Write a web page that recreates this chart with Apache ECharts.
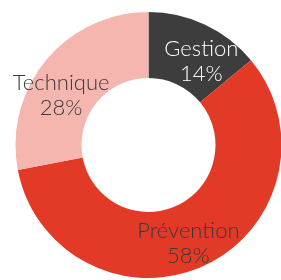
<!DOCTYPE html>
<html><head><meta charset="utf-8">
<script src="https://cdn.jsdelivr.net/npm/echarts@6/dist/echarts.min.js"></script>
<style>html,body{margin:0;padding:0;background:#fff}#c{width:281px;height:280px}</style>
</head><body><div id="c"></div>
<script>
const categories = ['Gestion', 'Prévention', 'Technique'];
const values = [14, 58, 28];
const colors = ['#3d3d3d', '#e23a26', '#f4b6ae'];
const labelColors = ['#ffffff', '#3a3a3a', '#3a3a3a'];
const labelOffsets = [[9, 10], [-4, 5], [-8, 16]];

const chart = echarts.init(document.getElementById('c'), null, {renderer: 'canvas'});
chart.setOption({
  animation: false,
  series: [{
    type: 'pie',
    center: [148.5, 145],
    radius: [67, 133],
    startAngle: 90,
    clockwise: true,
    avoidLabelOverlap: false,
    label: {
      show: true,
      position: 'inside',
      formatter: p => p.name + '\n' + p.value + '%',
      fontFamily: 'Lato',
      fontWeight: 300,
      fontSize: 22,
      lineHeight: 25,
      align: 'center'
    },
    labelLine: {show: false},
    itemStyle: {borderWidth: 0},
    emphasis: {disabled: true},
    data: categories.map((c, i) => ({
      name: c,
      value: values[i],
      itemStyle: {color: colors[i]},
      label: {color: labelColors[i], offset: labelOffsets[i]}
    }))
  }]
});
</script></body></html>
